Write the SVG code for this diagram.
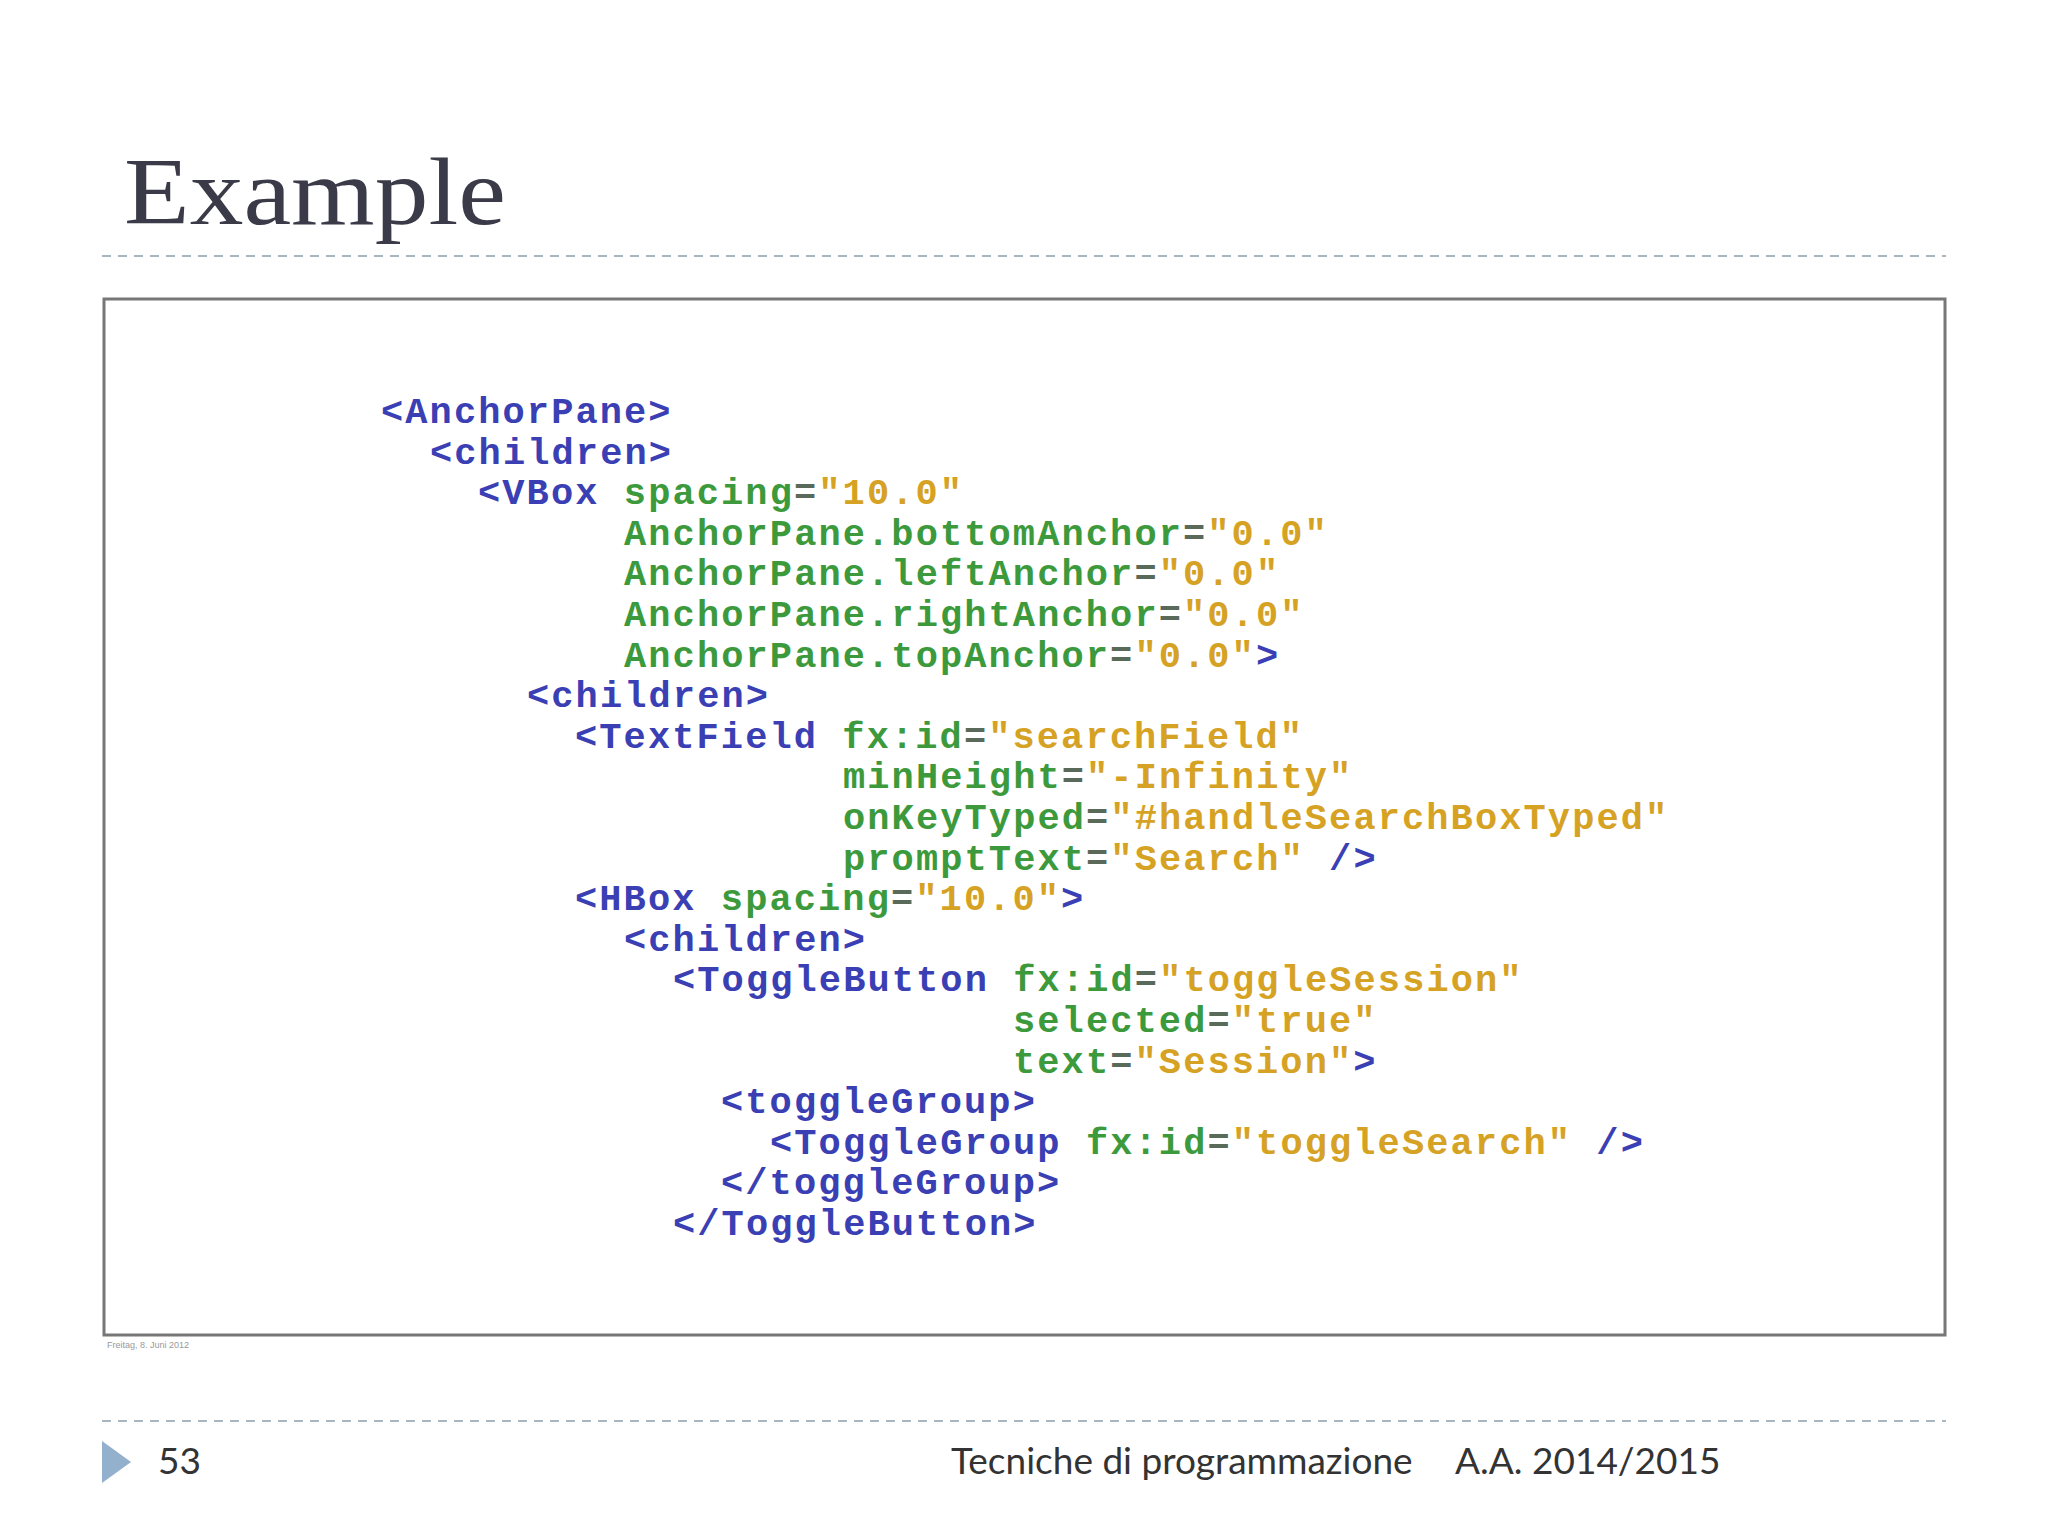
<svg xmlns="http://www.w3.org/2000/svg" width="2048" height="1536" viewBox="0 0 2048 1536">
<style>
.code{font-family:"Liberation Mono","DejaVu Sans Mono",monospace;font-size:37px;letter-spacing:2.1px;font-weight:bold}
.t{fill:#3a40b4}.a{fill:#3c9a3c}.v{fill:#d6a224}.e{fill:#5a6a5a}
.foot{font-family:Lato,"Open Sans",sans-serif;font-size:37px;fill:#333}
.dash{stroke:#a9b6bf;stroke-width:2;stroke-dasharray:9 7}
</style>
<rect width="2048" height="1536" fill="#fff"/>
<g id="title"><text x="124" y="224" font-family="Liberation Serif,serif" font-size="96" fill="#3a3a48" textLength="382" lengthAdjust="spacingAndGlyphs">Example</text></g>
<line class="dash" x1="102" y1="256" x2="1946" y2="256"/>
<g id="codebox">
<rect x="104" y="299" width="1841" height="1036" fill="#fff" stroke="#777" stroke-width="3"/>
<g class="code">
<text x="381" y="423" class="t">&lt;AnchorPane&gt;</text>
<text x="430" y="464" class="t">&lt;children&gt;</text>
<text x="478" y="504"><tspan class="t">&lt;VBox </tspan><tspan class="a">spacing</tspan><tspan class="e">=</tspan><tspan class="v">"10.0"</tspan></text>
<text x="624" y="545"><tspan class="a">AnchorPane.bottomAnchor</tspan><tspan class="e">=</tspan><tspan class="v">"0.0"</tspan></text>
<text x="624" y="585"><tspan class="a">AnchorPane.leftAnchor</tspan><tspan class="e">=</tspan><tspan class="v">"0.0"</tspan></text>
<text x="624" y="626"><tspan class="a">AnchorPane.rightAnchor</tspan><tspan class="e">=</tspan><tspan class="v">"0.0"</tspan></text>
<text x="624" y="667"><tspan class="a">AnchorPane.topAnchor</tspan><tspan class="e">=</tspan><tspan class="v">"0.0"</tspan><tspan class="t">&gt;</tspan></text>
<text x="527" y="707" class="t">&lt;children&gt;</text>
<text x="575" y="748"><tspan class="t">&lt;TextField </tspan><tspan class="a">fx:id</tspan><tspan class="e">=</tspan><tspan class="v">"searchField"</tspan></text>
<text x="843" y="788"><tspan class="a">minHeight</tspan><tspan class="e">=</tspan><tspan class="v">"-Infinity"</tspan></text>
<text x="843" y="829"><tspan class="a">onKeyTyped</tspan><tspan class="e">=</tspan><tspan class="v">"#handleSearchBoxTyped"</tspan></text>
<text x="843" y="870"><tspan class="a">promptText</tspan><tspan class="e">=</tspan><tspan class="v">"Search" </tspan><tspan class="t"> /&gt;</tspan></text>
<text x="575" y="910"><tspan class="t">&lt;HBox </tspan><tspan class="a">spacing</tspan><tspan class="e">=</tspan><tspan class="v">"10.0"</tspan><tspan class="t">&gt;</tspan></text>
<text x="624" y="951" class="t">&lt;children&gt;</text>
<text x="673" y="991"><tspan class="t">&lt;ToggleButton </tspan><tspan class="a">fx:id</tspan><tspan class="e">=</tspan><tspan class="v">"toggleSession"</tspan></text>
<text x="1013" y="1032"><tspan class="a">selected</tspan><tspan class="e">=</tspan><tspan class="v">"true"</tspan></text>
<text x="1013" y="1073"><tspan class="a">text</tspan><tspan class="e">=</tspan><tspan class="v">"Session"</tspan><tspan class="t">&gt;</tspan></text>
<text x="721" y="1113" class="t">&lt;toggleGroup&gt;</text>
<text x="770" y="1154"><tspan class="t">&lt;ToggleGroup </tspan><tspan class="a">fx:id</tspan><tspan class="e">=</tspan><tspan class="v">"toggleSearch" </tspan><tspan class="t"> /&gt;</tspan></text>
<text x="721" y="1194" class="t">&lt;/toggleGroup&gt;</text>
<text x="673" y="1235" class="t">&lt;/ToggleButton&gt;</text>
</g>
<text x="107" y="1348" font-family="Liberation Sans,sans-serif" font-size="9" fill="#999">Freitag, 8. Juni 2012</text>
</g>
<line class="dash" x1="102" y1="1421" x2="1946" y2="1421"/>
<g id="footer">
<polygon points="102,1441 131,1462 102,1483" fill="#93b0cc"/>
<text x="158" y="1474" class="foot">53</text>
<text x="951" y="1474" class="foot">Tecniche di programmazione</text>
<text x="1455" y="1474" class="foot">A.A. 2014/2015</text>
</g>
</svg>
